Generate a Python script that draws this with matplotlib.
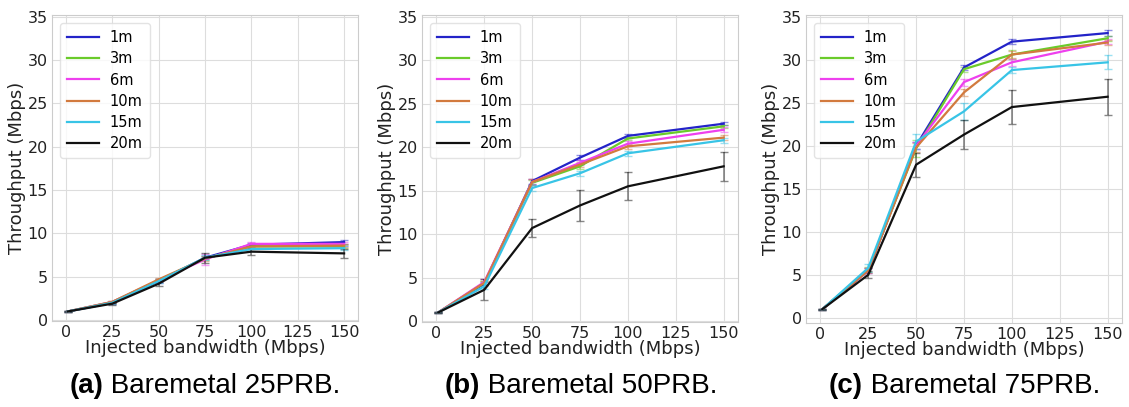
import matplotlib
matplotlib.use("Agg")
import matplotlib.pyplot as plt

# injected bandwidth (Mbps)
x = [1, 25, 50, 75, 100, 150]
distances = ["1m", "3m", "6m", "10m", "15m", "20m"]
colors = ["#2323c8", "#6acb2a", "#ee40ee", "#d27a3e", "#38c4e6", "#111111"]

# throughput (Mbps), one list per distance
prb25 = [
    [1.0, 2.0, 4.5, 7.2, 8.7, 9.0],
    [1.0, 2.1, 4.6, 7.1, 8.5, 8.5],
    [1.0, 2.1, 4.6, 7.0, 8.8, 8.8],
    [1.0, 2.1, 4.7, 7.1, 8.5, 8.6],
    [1.0, 2.0, 4.5, 7.2, 8.2, 8.3],
    [1.0, 1.9, 4.2, 7.2, 7.9, 7.7],
]
prb25_err = [
    [0.05, 0.1, 0.2, 0.2, 0.2, 0.2],
    [0.05, 0.1, 0.2, 0.2, 0.2, 0.2],
    [0.05, 0.1, 0.2, 0.6, 0.2, 0.2],
    [0.05, 0.1, 0.2, 0.3, 0.2, 0.2],
    [0.05, 0.1, 0.2, 0.3, 0.2, 0.2],
    [0.05, 0.1, 0.3, 0.6, 0.4, 0.5],
]

prb50 = [
    [1.0, 4.3, 16.1, 18.8, 21.3, 22.7],
    [1.0, 4.4, 15.9, 17.8, 21.0, 22.4],
    [1.0, 4.5, 16.0, 18.2, 20.4, 22.0],
    [1.0, 4.4, 16.0, 18.0, 20.1, 21.1],
    [1.0, 4.0, 15.3, 17.0, 19.3, 20.8],
    [1.0, 3.6, 10.7, 13.3, 15.5, 17.8],
]
prb50_err = [
    [0.05, 0.2, 0.3, 0.3, 0.2, 0.2],
    [0.05, 0.2, 0.3, 0.3, 0.2, 0.2],
    [0.05, 0.3, 0.3, 0.3, 0.3, 0.3],
    [0.05, 0.2, 0.3, 0.3, 0.3, 0.3],
    [0.05, 0.3, 0.3, 0.3, 0.3, 0.3],
    [0.05, 1.2, 1.0, 1.8, 1.6, 1.7],
]

prb75 = [
    [1.0, 5.5, 20.0, 29.1, 32.1, 33.1],
    [1.0, 5.6, 19.7, 28.9, 30.6, 32.5],
    [1.0, 5.5, 20.0, 27.4, 29.7, 32.1],
    [1.0, 5.5, 19.8, 26.2, 30.6, 32.0],
    [1.0, 5.8, 20.5, 24.0, 28.8, 29.7],
    [1.0, 5.0, 17.8, 21.3, 24.5, 25.7],
]
prb75_err = [
    [0.05, 0.3, 0.4, 0.3, 0.3, 0.3],
    [0.05, 0.3, 1.0, 0.3, 0.5, 0.3],
    [0.05, 0.3, 0.4, 0.4, 0.4, 0.3],
    [0.05, 0.3, 0.5, 0.4, 0.4, 0.3],
    [0.05, 0.5, 0.9, 1.0, 0.3, 0.8],
    [0.05, 0.4, 1.4, 1.7, 2.0, 2.1],
]

xticks = [0, 25, 50, 75, 100, 125, 150]
yticks = [0, 5, 10, 15, 20, 25, 30, 35]
captions = [("(a)", " Baremetal 25PRB."), ("(b)", " Baremetal 50PRB."),
            ("(c)", " Baremetal 75PRB.")]

plt.rcParams["font.family"] = "DejaVu Sans"

fig = plt.figure(figsize=(11.29, 4.07), dpi=100)
W, H = 1129.0, 407.0
boxes = [(52, 358, 15, 321), (422, 738, 15, 322), (806, 1122, 15, 323)]
ylims = [(-0.1, 35.2), (-0.1, 35.2), (-0.6, 35.2)]

for i, (data, errs) in enumerate([(prb25, prb25_err), (prb50, prb50_err),
                                  (prb75, prb75_err)]):
    l, r, t, b = boxes[i]
    ax = fig.add_axes([l / W, 1 - b / H, (r - l) / W, (b - t) / H])
    for name, c, ys, es in zip(distances, colors, data, errs):
        ax.plot(x, ys, color=c, lw=1.6, label=name, zorder=3)
        ax.errorbar(x, ys, yerr=es, fmt="none", ecolor=c, alpha=0.5,
                    elinewidth=1.2, capsize=3, zorder=2)
    ax.set_xlim(-7.5, 157.5)
    ax.set_ylim(*ylims[i])
    ax.set_xticks(xticks)
    ax.set_yticks(yticks)
    ax.tick_params(length=0, labelsize=11.5, pad=3, colors="#222222")
    ax.grid(True, color="#dddddd", lw=0.8)
    for s in ax.spines.values():
        s.set_color("#cccccc")
    ax.set_xlabel("Injected bandwidth (Mbps)", fontsize=13, labelpad=-1,
                  color="#222222")
    ax.set_ylabel("Throughput (Mbps)", fontsize=13, labelpad=1,
                  color="#222222")
    ax.legend(loc="upper left", fontsize=10.5, frameon=True, framealpha=0.8,
              edgecolor="#dddddd", handlelength=2.2, labelspacing=0.42,
              borderpad=0.5, handletextpad=0.7, borderaxespad=0.55)

    cx = (l + r) / 2 / W
    lab, rest = captions[i]
    tb = fig.text(cx, 1 - 386 / H, lab + rest, fontsize=20,
                  family="Liberation Sans", ha="center", va="center",
                  alpha=0)
    fig.canvas.draw()
    bb = tb.get_window_extent()
    x0 = bb.x0 / W
    t1 = fig.text(x0, 1 - 386 / H, lab, fontsize=20, family="Liberation Sans",
                  fontweight="bold", ha="left", va="center")
    bb1 = t1.get_window_extent()
    fig.text(bb1.x1 / W, 1 - 386 / H, rest, fontsize=20,
             family="Liberation Sans", ha="left", va="center")

fig.savefig("out.png", dpi=100)
